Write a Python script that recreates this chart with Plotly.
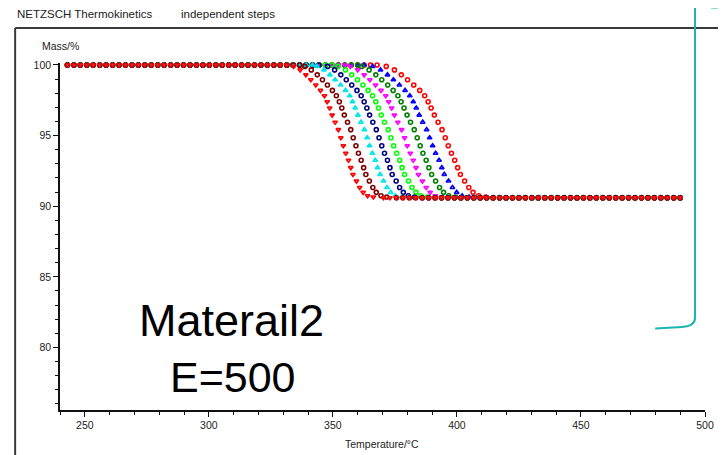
import plotly.graph_objects as go

# ---------------- data ----------------
# common temperature grid of the plateau markers (degC)
grid_temps = [243.0, 245.6, 248.2, 250.8, 253.4, 256.0, 258.6, 261.2, 263.8, 266.4, 269.0, 271.6,
              274.2, 276.8, 279.4, 282.0, 284.6, 287.2, 289.8, 292.4, 295.0, 297.6, 300.2, 302.8,
              305.4, 308.0, 310.6, 313.2, 315.8, 318.4, 321.0, 323.6, 326.2, 328.8, 331.4, 334.0,
              336.6, 339.2, 341.8, 344.4, 347.0, 349.6, 352.2, 354.8, 357.4, 360.0, 362.6, 365.2,
              367.8, 370.4, 373.0, 375.6, 378.2, 380.8, 383.4, 386.0, 388.6, 391.2, 393.8, 396.4,
              399.0, 401.6, 404.2, 406.8, 409.4, 412.0, 414.6, 417.2, 419.8, 422.4, 425.0, 427.6,
              430.2, 432.8, 435.4, 438.0, 440.6, 443.2, 445.8, 448.4, 451.0, 453.6, 456.2, 458.8,
              461.4, 464.0, 466.6, 469.2, 471.8, 474.4, 477.0, 479.6, 482.2, 484.8, 487.4, 490.0]

initial_mass = 100.0
final_mass = 90.6

# mass levels of the step markers (%)
step_mass = [99.9, 99.65, 99.3, 98.95, 98.58, 98.2, 97.82, 97.4, 96.95, 96.45, 95.95, 95.42,
             94.85, 94.28, 93.75, 93.25, 92.73, 92.25, 91.78, 91.32, 90.98, 90.74, 90.65]

# temperatures at which each curve passes the step mass levels (degC)
step_temps_1 = [334.2, 336.8, 339.1, 341.1, 343.1, 345.0, 346.6, 347.7, 348.7, 349.7, 350.9, 352.2,
                353.2, 354.2, 355.2, 356.3, 357.2, 358.1, 359.5, 360.8, 362.2, 364.0, 366.3]
step_temps_2 = [338.7, 341.3, 343.7, 345.8, 347.8, 349.8, 351.4, 352.6, 353.6, 354.6, 355.9, 357.2,
                358.2, 359.3, 360.3, 361.4, 362.4, 363.3, 364.7, 366.1, 367.5, 369.4, 371.7]
step_temps_3 = [343.6, 346.4, 348.8, 350.9, 353.1, 355.1, 356.8, 357.9, 359.0, 360.1, 361.3, 362.7,
                363.8, 364.8, 365.9, 367.1, 368.0, 369.0, 370.4, 371.8, 373.3, 375.2, 377.7]
step_temps_4 = [347.9, 350.7, 353.2, 355.4, 357.6, 359.7, 361.4, 362.6, 363.7, 364.8, 366.1, 367.5,
                368.6, 369.7, 370.8, 372.0, 373.0, 373.9, 375.5, 376.9, 378.4, 380.4, 382.9]
step_temps_5 = [352.1, 355.1, 357.6, 359.9, 362.1, 364.2, 366.0, 367.3, 368.4, 369.5, 370.8, 372.3,
                373.4, 374.5, 375.7, 376.9, 377.9, 378.9, 380.5, 381.9, 383.5, 385.5, 388.1]
step_temps_6 = [357.0, 360.0, 362.6, 364.9, 367.2, 369.4, 371.3, 372.5, 373.7, 374.8, 376.2, 377.7,
                378.9, 380.0, 381.2, 382.4, 383.5, 384.5, 386.1, 387.6, 389.2, 391.3, 393.9]
step_temps_7 = [361.6, 364.6, 367.3, 369.7, 372.1, 374.3, 376.2, 377.5, 378.7, 379.9, 381.3, 382.8,
                384.0, 385.2, 386.3, 387.6, 388.7, 389.8, 391.4, 393.0, 394.6, 396.7, 399.4]
step_temps_8 = [366.0, 369.2, 372.0, 374.4, 376.8, 379.1, 381.0, 382.4, 383.6, 384.8, 386.2, 387.8,
                389.0, 390.2, 391.4, 392.8, 393.9, 394.9, 396.6, 398.2, 399.9, 402.1, 404.9]
step_temps_9 = [371.5, 374.8, 377.6, 380.1, 382.6, 385.0, 387.0, 388.4, 389.6, 390.9, 392.4, 394.0,
                395.3, 396.5, 397.8, 399.1, 400.3, 401.4, 403.1, 404.8, 406.5, 408.8, 411.6]

curve_temps = [step_temps_1, step_temps_2, step_temps_3, step_temps_4, step_temps_5,
               step_temps_6, step_temps_7, step_temps_8, step_temps_9]
curve_colors = ["#ff0000", "#800000", "#00e5e5", "#000080", "#00ff00",
                "#ff00ff", "#008000", "#0000ff", "#ff0000"]
curve_symbols = ["triangle-down-open", "circle-open", "triangle-up-open", "circle-open", "circle-open",
                 "triangle-down-open", "circle-open", "triangle-up-open", "circle-open"]

x_ticks = [250, 300, 350, 400, 450, 500]
y_ticks = [80, 85, 90, 95, 100]

# ---------------- figure ----------------
# the page body has an 8px margin, so the figure is 8px smaller and shifted
OFF = 8
W, H = 726 - OFF, 455 - OFF
ML, MR, MT, MB = 60 - OFF, 19, 63 - OFF, 45
PW, PH = W - ML - MR, H - MT - MB


def px(x):  # reference-window pixel -> paper
    return (x - OFF - ML) / PW


def py(y):
    return (H - MB - (y - OFF)) / PH


fig = go.Figure()
for i in reversed(range(len(curve_temps))):
    st = curve_temps[i]
    before = [t for t in grid_temps if t < st[0] - 1.5]
    after = [t for t in grid_temps if t > st[-1] + 1.5]
    xs = before + st + after
    ys = [initial_mass] * len(before) + step_mass + [final_mass] * len(after)
    fig.add_trace(go.Scatter(
        x=xs, y=ys, mode="markers", cliponaxis=False, showlegend=False,
        marker=dict(symbol=curve_symbols[i], size=4, color=curve_colors[i],
                    line=dict(width=1.6, color=curve_colors[i])),
    ))

axis_common = dict(showline=True, linecolor="#111", linewidth=1.5, ticks="outside",
                   ticklen=5, tickwidth=1.3, tickcolor="#111", showgrid=False, zeroline=False,
                   tickfont=dict(family="Liberation Sans, Arial", size=10.5, color="#222"))

fig.update_xaxes(range=[240, 500], tickvals=x_ticks,
                 minor=dict(dtick=10, ticks="outside", ticklen=3, tickcolor="#111"),
                 **axis_common)
fig.update_yaxes(range=[75.57, 100.14], tickvals=y_ticks,
                 minor=dict(dtick=1, ticks="outside", ticklen=3, tickcolor="#111"),
                 **axis_common)

txt = dict(family="Liberation Sans, Arial", color="#222")
annotations = [
    dict(x=px(15), y=py(14), text="NETZSCH Thermokinetics", xanchor="left", yanchor="middle",
         font=dict(size=11.5, **txt)),
    dict(x=px(179), y=py(14), text="independent steps", xanchor="left", yanchor="middle",
         font=dict(size=11.5, **txt)),
    dict(x=px(60), y=py(46), text="Mass/%", xanchor="center", yanchor="middle",
         font=dict(size=10.5, **txt)),
    dict(x=px(383), y=py(444), text="Temperature/°C", xanchor="center", yanchor="middle",
         font=dict(size=10.5, **txt)),
    dict(x=px(232), y=py(320), text="Materail2", xanchor="center", yanchor="middle",
         font=dict(size=45, family="Liberation Sans, Arial", color="#000")),
    dict(x=px(234), y=py(377), text="E=500", xanchor="center", yanchor="middle",
         font=dict(size=43, family="Liberation Sans, Arial", color="#000")),
]
for a in annotations:
    a.update(xref="paper", yref="paper", showarrow=False)

teal = "#1ab5b0"
shapes = [
    dict(type="line", x0=px(15), x1=px(726), y0=py(28), y1=py(28), line=dict(color="#3a3a3a", width=2)),
    dict(type="line", x0=px(15), x1=px(15), y0=py(28), y1=py(455), line=dict(color="#3a3a3a", width=2)),
    dict(type="path",
         path=f"M {px(697)},{py(8)} L {px(697)},{py(318)} Q {px(697)},{py(326)} {px(684)},{py(327)} L {px(657)},{py(328.5)}",
         line=dict(color=teal, width=2)),
    dict(type="rect", x0=px(713), x1=px(726), y0=py(8), y1=py(8.5), fillcolor=teal, line=dict(width=0)),
]
for s in shapes:
    s.update(xref="paper", yref="paper")

fig.update_layout(width=W, height=H, margin=dict(l=ML, r=MR, t=MT, b=MB),
                  paper_bgcolor="white", plot_bgcolor="white",
                  annotations=annotations, shapes=shapes)

fig.write_html("out.html")
